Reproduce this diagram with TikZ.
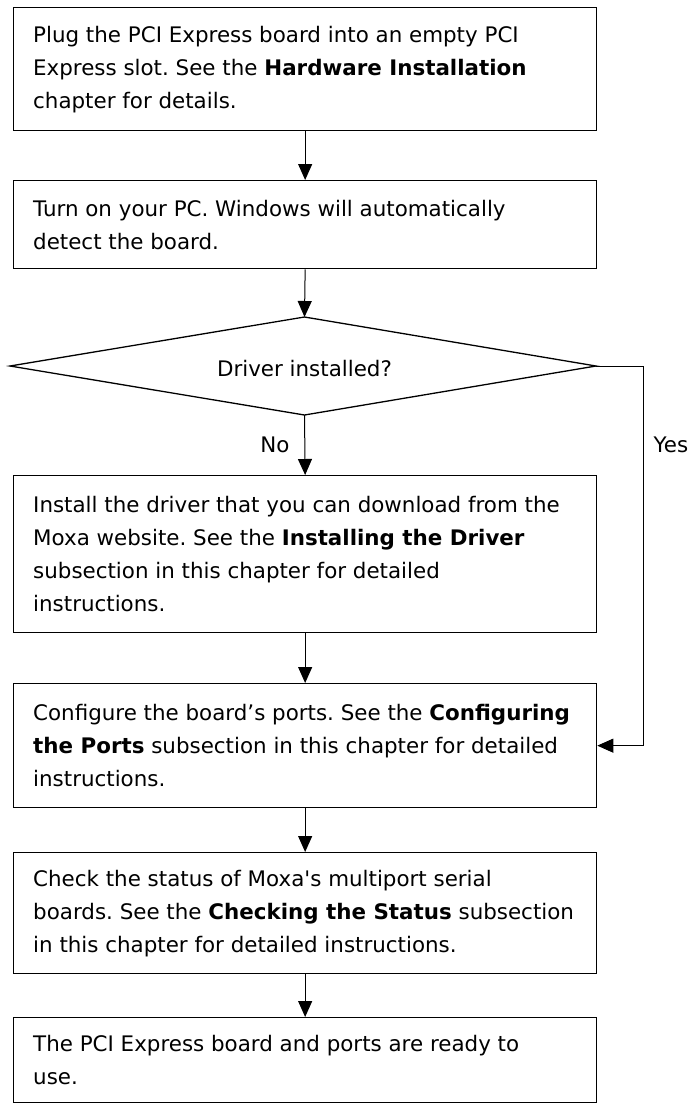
\documentclass[tikz,border=0pt]{standalone}
\usepackage{fontspec}
\newfontfamily\dv{DejaVu Sans}
\usetikzlibrary{arrows.meta}
\begin{document}
\frenchspacing
\begin{tikzpicture}[x=1pt,y=-1pt,
  font=\dv\fontsize{21.4}{33}\selectfont,
  stepbox/.style={draw, line width=1.3pt, rectangle, anchor=north west,
    minimum width=583pt, inner sep=0pt},
  txt/.style={anchor=west, align=left, inner sep=0pt},
  conn/.style={line width=1pt, -{Triangle[length=16pt,width=14pt]}},
  lbl/.style={inner sep=0pt}]
\useasboundingbox (0,0) rectangle (698,1104);
\node[stepbox, minimum height=123pt] (b1) at (13,7) {};
\node[txt] (t1) at ([xshift=20pt]b1.west) {Plug the PCI Express board into an empty PCI\\Express slot. See the \textbf{Hardware Installation}\\chapter for details.};
\node[stepbox, minimum height=88pt] (b2) at (13,180) {};
\node[txt] (t2) at ([xshift=20pt]b2.west) {Turn on your PC. Windows will automatically\\detect the board.};
\coordinate (dtop) at (304.5,317);
\coordinate (dright) at (596,366);
\coordinate (dbot) at (304.5,415);
\coordinate (dleft) at (10,366);
\draw[line width=1.3pt] (dtop) -- (dright) -- (dbot) -- (dleft) -- cycle;
\node[lbl] (dq) at (304.5,369) {Driver installed?};
\node[stepbox, minimum height=157pt] (b3) at (13,475) {};
\node[txt] (t3) at ([xshift=20pt]b3.west) {Install the driver that you can download from the\\Moxa website. See the \textbf{Installing the Driver}\\subsection in this chapter for detailed\\instructions.};
\node[stepbox, minimum height=124pt] (b4) at (13,683) {};
\node[txt] (t4) at ([xshift=20pt]b4.west) {Configure the board’s ports. See the \textbf{Configuring}\\\textbf{the Ports} subsection in this chapter for detailed\\instructions.};
\node[stepbox, minimum height=121pt] (b5) at (13,852) {};
\node[txt] (t5) at ([xshift=20pt]b5.west) {Check the status of Moxa's multiport serial\\boards. See the \textbf{Checking the Status} subsection\\in this chapter for detailed instructions.};
\node[stepbox, minimum height=85pt] (b6) at (13,1017) {};
\node[txt] (t6) at ([xshift=20pt]b6.west) {The PCI Express board and ports are ready to\\use.};
\coordinate (yc) at (643,366);
\draw[conn] (b1.south) -- (b2.north);
\draw[conn] (b2.south) -- (dtop);
\draw[conn] (dbot) -- (b3.north);
\draw[conn] (b3.south) -- (b4.north);
\draw[conn] (b4.south) -- (b5.north);
\draw[conn] (b5.south) -- (b6.north);
\draw[conn] (dright) -- (yc) |- (b4.east);
\node[lbl] (no) at (275,445) {No};
\node[lbl] (yes) at (671,445) {Yes};
\end{tikzpicture}
\end{document}
